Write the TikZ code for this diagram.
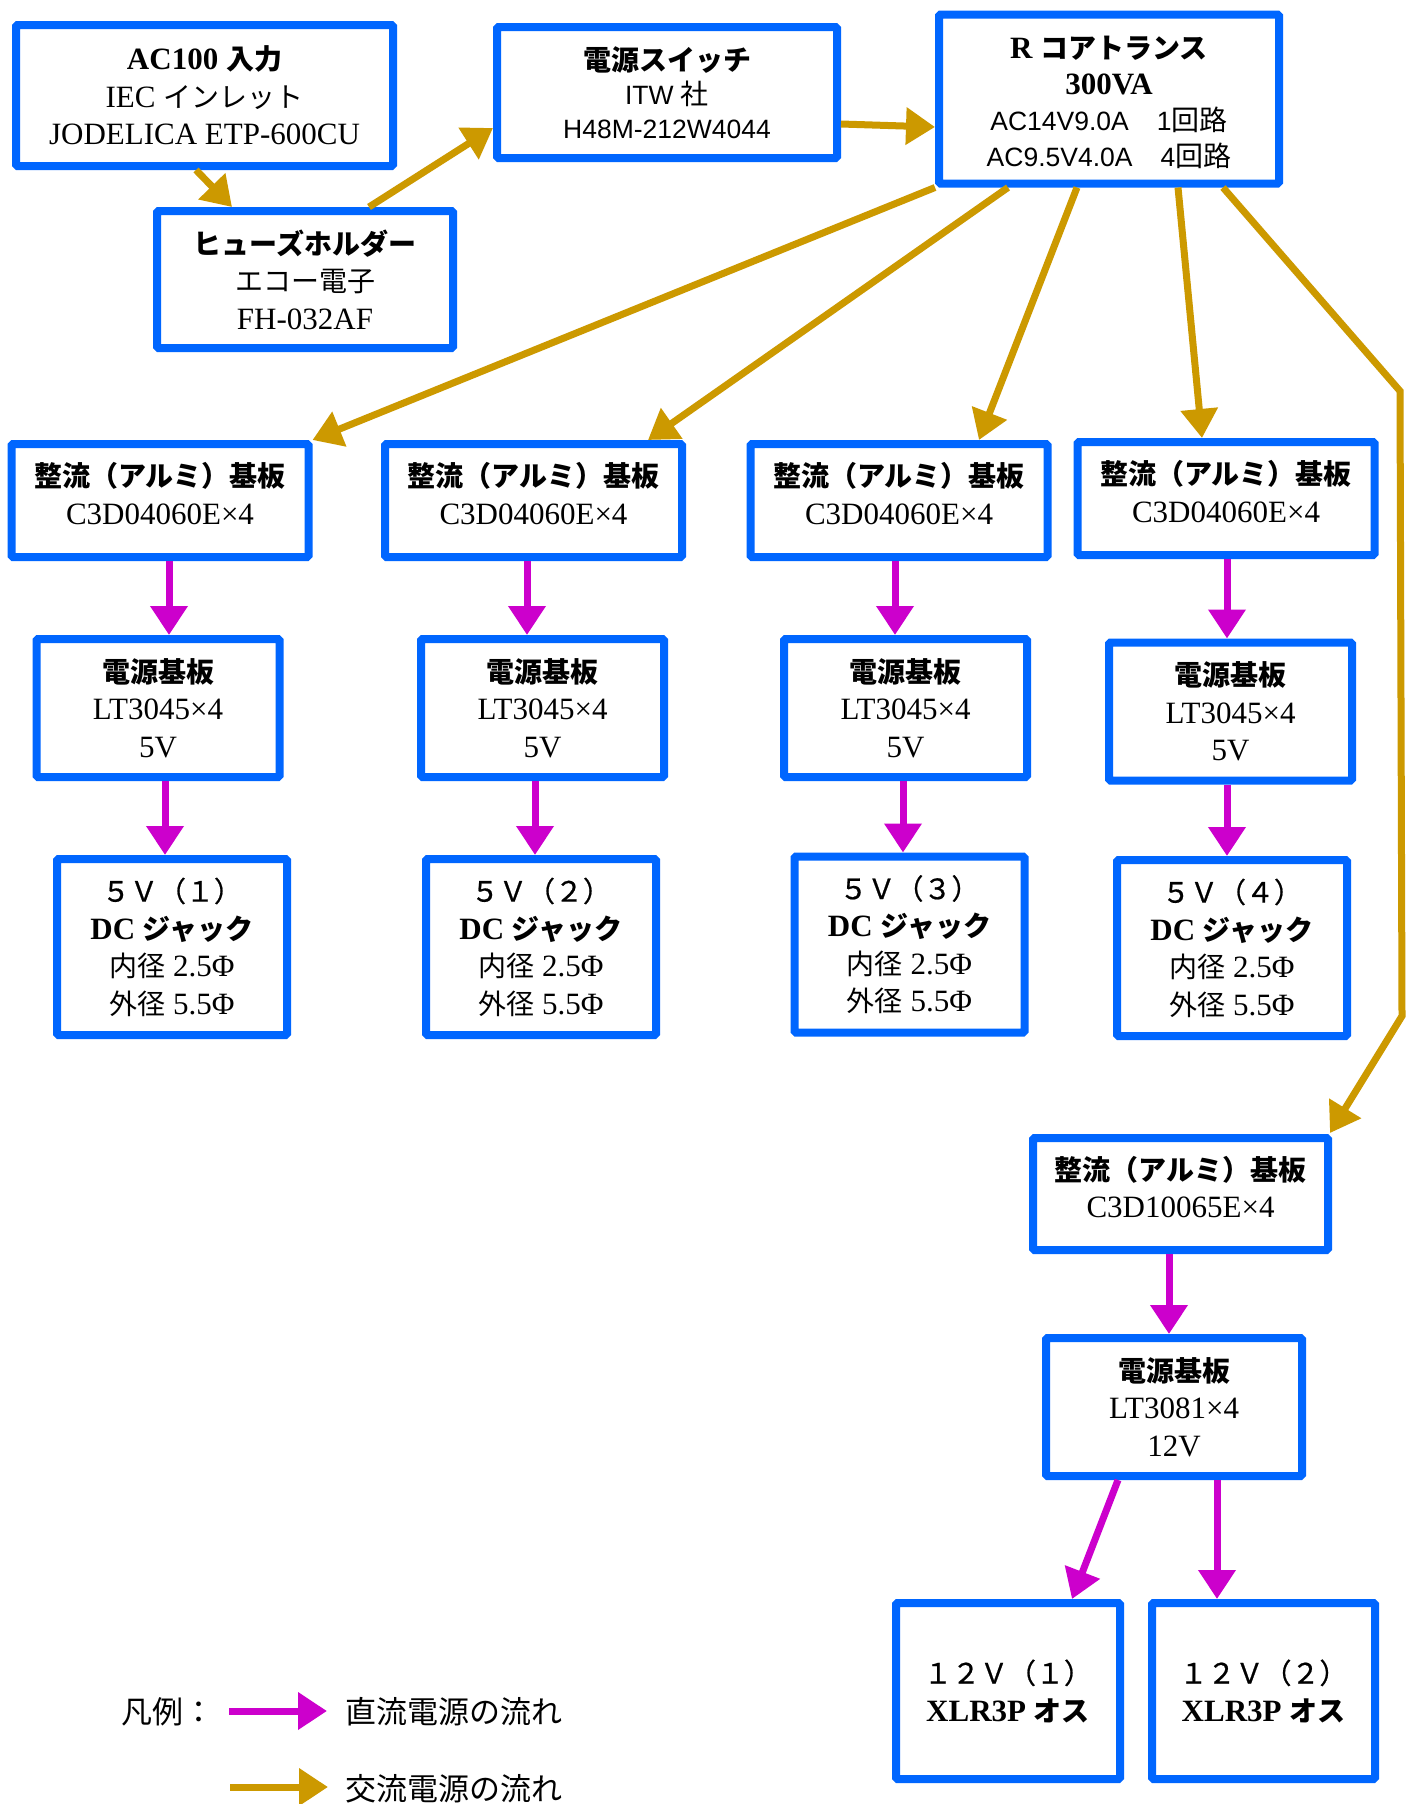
\documentclass[tikz,border=0pt]{standalone}
\usepackage{fontspec}
\setmainfont{Liberation Serif}
\newfontfamily\cjk{Noto Sans CJK JP}
\newfontfamily\cjkmed[FakeBold=0.7]{Noto Sans CJK JP}
\newfontfamily\sansf{Liberation Sans}
\usetikzlibrary{arrows.meta}
\definecolor{boxblue}{RGB}{0,102,255}
\definecolor{acgold}{RGB}{204,153,0}
\definecolor{dcmag}{RGB}{204,0,204}
\newcommand\jp[1]{{\cjk\fontsize{28}{37.5}\selectfont #1}}
\newcommand\jm[1]{{\cjkmed\fontsize{28}{37.5}\selectfont #1}}
\newcommand\jb[1]{{\cjk\bfseries\fontsize{28}{37.5}\selectfont #1}}
\newcommand\sa[1]{{\sansf\fontsize{26.5}{37.5}\selectfont #1}}
\tikzset{
  box/.style={draw=boxblue, line width=8pt, rounded corners=1.5pt, align=center, inner sep=0pt, text=black,
    font=\fontsize{31}{37.5}\selectfont},
  rectbox/.style={box, minimum width=297pt, minimum height=113pt},
  pwrbox/.style={box, minimum width=243pt, minimum height=138pt},
  jackbox/.style={box, minimum width=230pt, minimum height=176pt},
  xlrbox/.style={box, minimum width=224pt, minimum height=176pt},
  acar/.style={draw=acgold, line width=7pt, -{Triangle[length=29pt,width=36pt]}},
  dcar/.style={draw=dcmag, line width=7pt, -{Triangle[length=29pt,width=36pt]}},
  legtext/.style={anchor=west, inner sep=0pt, font=\cjk\fontsize{31}{37}\selectfont}
}
\begin{document}
\begin{tikzpicture}[x=1pt,y=-1pt]
\fill[white] (0,0) rectangle (1413,1804);
\useasboundingbox (0,0) rectangle (1413,1804);

% top row
\node[box, minimum width=377pt, minimum height=141pt] (ac) at (204.5,95.5)
  {{\bfseries AC100 }\jb{入力}\\IEC \jp{インレット}\\JODELICA ETP-600CU};
\node[box, minimum width=296pt, minimum height=137pt] (fuse) at (305,279.5)
  {\jb{ヒューズホルダー}\\\jp{エコー電子}\\FH-032AF};
\node[box, minimum width=340pt, minimum height=131pt, font=\fontsize{31}{34}\selectfont] (sw) at (667,92.5)
  {\jb{電源スイッチ}\\\sa{ITW }\jp{社}\\\sa{H48M-212W4044}};
\node[box, minimum width=340pt, minimum height=169pt, font=\fontsize{31}{36}\selectfont] (tr) at (1109,99)
  {\rule{0pt}{30pt}{\bfseries R }\jb{コアトランス}\\{\bfseries 300VA}\\
   \sa{AC14V9.0A}\jp{　}\sa{1}\jp{回路}\\\sa{AC9.5V4.0A}\jp{　}\sa{4}\jp{回路}};

% rectifier row
\node[rectbox] (r1) at (160,500.5) {\jb{整流（アルミ）基板}\\C3D04060E×4\\[-23pt]\mbox{}};
\node[rectbox] (r2) at (533.5,500.5) {\jb{整流（アルミ）基板}\\C3D04060E×4\\[-23pt]\mbox{}};
\node[rectbox] (r3) at (899,500.5) {\jb{整流（アルミ）基板}\\C3D04060E×4\\[-23pt]\mbox{}};
\node[rectbox] (r4) at (1226,498.5) {\jb{整流（アルミ）基板}\\C3D04060E×4\\[-23pt]\mbox{}};

% power boards
\node[pwrbox] (p1) at (158,708) {\jb{電源基板}\\LT3045×4\\5V};
\node[pwrbox] (p2) at (542.5,708) {\jb{電源基板}\\LT3045×4\\5V};
\node[pwrbox] (p3) at (905.5,708) {\jb{電源基板}\\LT3045×4\\5V};
\node[pwrbox] (p4) at (1230.5,711.5) {\jb{電源基板}\\LT3045×4\\5V};

% jacks
\node[jackbox] (j1) at (172,947) {\jm{５Ｖ（１）}\\{\bfseries DC }\jb{ジャック}\\\jp{内径}~2.5Φ\\\jp{外径}~5.5Φ};
\node[jackbox] (j2) at (541,947) {\jm{５Ｖ（２）}\\{\bfseries DC }\jb{ジャック}\\\jp{内径}~2.5Φ\\\jp{外径}~5.5Φ};
\node[jackbox] (j3) at (909.5,944.5) {\jm{５Ｖ（３）}\\{\bfseries DC }\jb{ジャック}\\\jp{内径}~2.5Φ\\\jp{外径}~5.5Φ};
\node[jackbox] (j4) at (1232,948) {\jm{５Ｖ（４）}\\{\bfseries DC }\jb{ジャック}\\\jp{内径}~2.5Φ\\\jp{外径}~5.5Φ};

% 12V branch
\node[rectbox, minimum width=295pt, minimum height=112pt] (r5) at (1180.5,1194) {\jb{整流（アルミ）基板}\\C3D10065E×4\\[-23pt]\mbox{}};
\node[pwrbox, minimum width=256pt] (p5) at (1174,1407) {\jb{電源基板}\\LT3081×4\\12V};
\node[xlrbox] (x1) at (1008,1691) {\jm{１２Ｖ（１）}\\{\bfseries XLR3P }\jb{オス}};
\node[xlrbox, minimum width=223pt] (x2) at (1263.5,1691) {\jm{１２Ｖ（２）}\\{\bfseries XLR3P }\jb{オス}};

% AC connectors
\draw[acar] (196,0 |- ac.south) -- (232,0 |- fuse.north);
\draw[acar] (369,0 |- fuse.north) -- (sw.west |- 0,128);
\draw[acar] (sw.east |- 0,124) -- (tr.west |- 0,127);
\draw[acar] (tr.south west) -- (r1.north east);
\draw[acar] (1008,0 |- tr.south) -- (648,0 |- r2.north);
\draw[acar] (1077,0 |- tr.south) -- (979,0 |- r3.north);
\draw[acar] (1178,0 |- tr.south) -- (1202,0 |- r4.north);
\draw[acar] (1223,0 |- tr.south) -- (1400,391) -- (1402,1016) -- ([xshift=-2pt,yshift=1pt]r5.north east);

% DC connectors
\draw[dcar] (169,0 |- r1.south) -- (169,0 |- p1.north);
\draw[dcar] (165,0 |- p1.south) -- (165,0 |- j1.north);
\draw[dcar] (527,0 |- r2.south) -- (527,0 |- p2.north);
\draw[dcar] (535,0 |- p2.south) -- (535,0 |- j2.north);
\draw[dcar] (895,0 |- r3.south) -- (895,0 |- p3.north);
\draw[dcar] (903,0 |- p3.south) -- (903,0 |- j3.north);
\draw[dcar] (1227,0 |- r4.south) -- (1227,0 |- p4.north);
\draw[dcar] (1227,0 |- p4.south) -- (1227,0 |- j4.north);
\draw[dcar] (1169,0 |- r5.south) -- (1169,0 |- p5.north);
\draw[dcar] (1118,0 |- p5.south) -- (1072,0 |- x1.north);
\draw[dcar] (1217,0 |- p5.south) -- (1217,0 |- x2.north);

% legend
\node[legtext] (leg) at (121,1712) {凡例：};
\coordinate (dcA) at (229,1711);
\coordinate (dcB) at (327,1711);
\draw[dcar] (dcA) -- (dcB);
\node[legtext] (legdc) at (345,1712) {直流電源の流れ};
\coordinate (acA) at (230,1787);
\coordinate (acB) at (328,1787);
\draw[acar] (acA) -- (acB);
\node[legtext] (legac) at (345,1789) {交流電源の流れ};
\end{tikzpicture}
\end{document}
